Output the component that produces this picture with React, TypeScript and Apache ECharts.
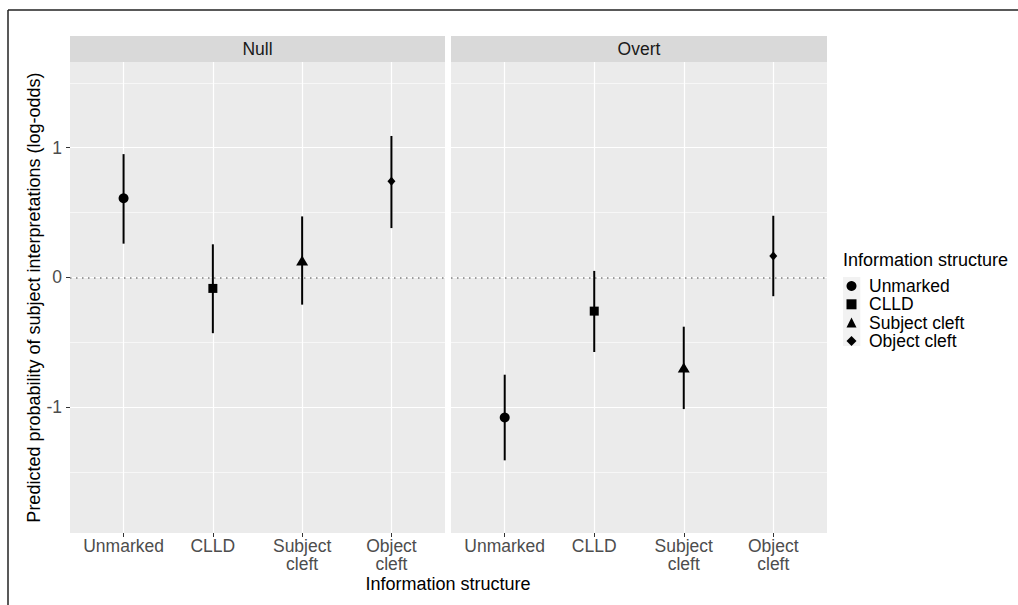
import React, { useEffect, useRef } from "react";
import * as echarts from "echarts";

const categories = ["Unmarked", "CLLD", "Subject cleft", "Object cleft"];
const tickLabels = ["Unmarked", "CLLD", "Subject\ncleft", "Object\ncleft"];
const panels = ["Null", "Overt"];
const symbols = ["circle", "rect", "triangle", "diamond"];

const nullEst = [0.61, -0.085, 0.13, 0.74];
const nullLow = [0.26, -0.43, -0.21, 0.38];
const nullHigh = [0.95, 0.255, 0.47, 1.09];

const overtEst = [-1.08, -0.26, -0.695, 0.165];
const overtLow = [-1.41, -0.575, -1.015, -0.145];
const overtHigh = [-0.75, 0.05, -0.38, 0.475];

const yMajorTicks = [-1, 0, 1];
const yMinorTicks = [-1.5, -0.5, 0.5, 1.5];
const yMin = -1.97;
const yMax = 1.66;
const xPositions = [1, 2, 3, 4];
const xMin = 0.4;
const xMax = 4.6;

const FONT = "'Liberation Sans', Arial, sans-serif";

export default function App() {
  const ref = useRef<HTMLDivElement>(null);

  useEffect(() => {
    if (!ref.current) return;
    const chart = echarts.init(ref.current, null, { renderer: "svg" });

    const panelData = [
      { est: nullEst, low: nullLow, high: nullHigh },
      { est: overtEst, low: overtLow, high: overtHigh },
    ];
    const gridDefs = [
      { left: 70, top: 62, width: 375, height: 471 },
      { left: 451, top: 62, width: 376, height: 471 },
    ];
    const symbolSizes: any[] = [10, 9, [12, 10], [8, 9]];

    const grids = gridDefs.map((g) => ({
      ...g,
      show: true,
      backgroundColor: "#ebebeb",
      borderWidth: 0,
      containLabel: false,
    }));

    const xAxes = gridDefs.map((_, p) => ({
      type: "value",
      gridIndex: p,
      min: xMin,
      max: xMax,
      position: "bottom",
      axisLine: { show: false, onZero: false },
      axisTick: {
        show: true,
        customValues: xPositions,
        length: 4,
        lineStyle: { color: "#333333", width: 1 },
      },
      axisLabel: {
        show: true,
        customValues: xPositions,
        formatter: (v: number) => tickLabels[Math.round(v) - 1] ?? "",
        color: "#4d4d4d",
        fontSize: 17.5,
        lineHeight: 18,
        fontFamily: FONT,
        margin: 4,
      },
      splitLine: { show: true, lineStyle: { color: "#ffffff", width: 1.2 } },
    }));

    const yAxes: any[] = [];
    gridDefs.forEach((_, p) => {
      yAxes.push({
        type: "value",
        gridIndex: p,
        min: yMin,
        max: yMax,
        position: "left",
        axisLine: { show: false, onZero: false },
        axisTick: {
          show: p === 0,
          customValues: yMajorTicks,
          length: 4,
          lineStyle: { color: "#333333", width: 1 },
        },
        axisLabel: {
          show: p === 0,
          customValues: yMajorTicks,
          color: "#4d4d4d",
          fontSize: 17.5,
          fontFamily: FONT,
          margin: 8,
        },
        splitLine: { show: true, lineStyle: { color: "#ffffff", width: 1.2 } },
        name: p === 0 ? "Predicted probability of subject interpretations (log-odds)" : "",
        nameLocation: "middle",
        nameGap: 26,
        nameRotate: 90,
        nameTextStyle: { color: "#000000", fontSize: 18, fontFamily: FONT },
      });
      yAxes.push({
        type: "value",
        gridIndex: p,
        min: yMin,
        max: yMax,
        position: "left",
        axisLine: { show: false, onZero: false },
        axisTick: { show: false, customValues: yMinorTicks },
        axisLabel: { show: false, customValues: yMinorTicks },
        splitLine: { show: true, lineStyle: { color: "#ffffff", width: 0.6 } },
      });
    });

    const series: any[] = [];
    panelData.forEach((d, p) => {
      series.push({
        type: "custom",
        xAxisIndex: p,
        yAxisIndex: p * 2,
        z: 3,
        silent: true,
        encode: { x: 0, y: [1, 2] },
        data: xPositions.map((x, i) => [x, d.low[i], d.high[i]]),
        renderItem: (params: any, api: any) => {
          const x = api.value(0);
          const lo = api.coord([x, api.value(1)]);
          const hi = api.coord([x, api.value(2)]);
          return {
            type: "line",
            shape: { x1: lo[0], y1: lo[1], x2: hi[0], y2: hi[1] },
            style: { stroke: "#000000", lineWidth: 2 },
          };
        },
      });
      categories.forEach((c, i) => {
        const s: any = {
          type: "scatter",
          name: c,
          xAxisIndex: p,
          yAxisIndex: p * 2,
          z: 4,
          symbol: symbols[i],
          symbolSize: symbolSizes[i],
          itemStyle: { color: "#000000", opacity: 1 },
          data: [[xPositions[i], d.est[i]]],
          silent: true,
        };
        if (i === 0) {
          s.markLine = {
            silent: true,
            symbol: ["none", "none"],
            label: { show: false },
            lineStyle: { type: [1.5, 4.5], color: "#808080", width: 1.5 },
            data: [{ yAxis: 0 }],
            z: 2,
          };
        }
        series.push(s);
      });
    });

    const graphics: any[] = [
      { type: "line", shape: { x1: 8, y1: 10, x2: 1018, y2: 10 }, style: { stroke: "#222222", lineWidth: 1.5 } },
      { type: "line", shape: { x1: 8, y1: 10, x2: 8, y2: 605 }, style: { stroke: "#222222", lineWidth: 1.5 } },
      {
        type: "text",
        x: 448,
        y: 584,
        style: {
          text: "Information structure",
          fontSize: 18,
          fontFamily: FONT,
          fill: "#000000",
          align: "center",
          verticalAlign: "middle",
        },
      },
      {
        type: "text",
        x: 843,
        y: 260,
        style: {
          text: "Information structure",
          fontSize: 18,
          fontFamily: FONT,
          fill: "#000000",
          align: "left",
          verticalAlign: "middle",
        },
      },
      { type: "rect", shape: { x: 843, y: 277, width: 17.3, height: 69 }, style: { fill: "#f2f2f2" }, z: 0 },
    ];
    gridDefs.forEach((g, p) => {
      graphics.push({
        type: "rect",
        shape: { x: g.left, y: 36, width: g.width, height: 26 },
        style: { fill: "#d9d9d9" },
      });
      graphics.push({
        type: "text",
        x: g.left + g.width / 2,
        y: 49,
        style: {
          text: panels[p],
          fontSize: 17.5,
          fontFamily: FONT,
          fill: "#1a1a1a",
          align: "center",
          verticalAlign: "middle",
        },
      });
    });

    chart.setOption({
      animation: false,
      backgroundColor: "#ffffff",
      textStyle: { fontFamily: FONT },
      grid: grids,
      xAxis: xAxes,
      yAxis: yAxes,
      legend: {
        show: true,
        orient: "vertical",
        left: 846.5,
        top: 277,
        padding: 0,
        itemWidth: 10,
        itemHeight: 10,
        itemGap: 0.3,
        selectedMode: false,
        textStyle: {
          fontSize: 17.5,
          lineHeight: 17,
          fontFamily: FONT,
          color: "#000000",
          padding: [0, 0, 0, 7.5],
        },
        data: categories.map((c, i) => ({ name: c, icon: symbols[i] })),
      },
      graphic: graphics,
      series,
    });

    return () => chart.dispose();
  }, []);

  return (
    <div
      ref={ref}
      style={{ position: "fixed", left: 0, top: 0, width: 1018, height: 605 }}
    />
  );
}
